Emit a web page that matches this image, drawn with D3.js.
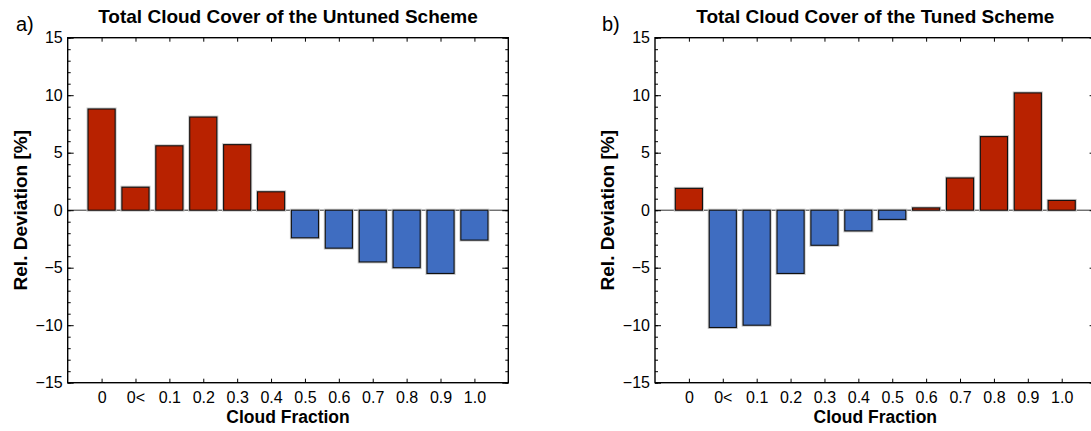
<!DOCTYPE html>
<html>
<head>
<meta charset="utf-8">
<script src="https://cdn.jsdelivr.net/npm/d3@7"></script>
<style>
  html, body { margin: 0; padding: 0; background: #fff; }
  svg { display: block; font-family: "Liberation Sans", Arial, sans-serif; }
</style>
</head>
<body>
<svg id="chart" width="1091" height="431"></svg>
<script>
// Cloud-fraction bins shown on the x axis
const categories = ["0", "0<", "0.1", "0.2", "0.3", "0.4", "0.5", "0.6", "0.7", "0.8", "0.9", "1.0"];

// Relative deviation [%] of total cloud cover per bin
const untunedValues = [8.8, 2.0, 5.6, 8.1, 5.7, 1.6, -2.4, -3.3, -4.5, -5.0, -5.5, -2.6];
const tunedValues   = [1.9, -10.2, -10.0, -5.5, -3.05, -1.8, -0.8, 0.2, 2.8, 6.4, 10.2, 0.85];

// Y axis ticks
const yMajorTicks = [-15, -10, -5, 0, 5, 10, 15];
const yMinorTicks = d3.range(-15, 16, 1);

const panels = [
  { tag: "a)", title: "Total Cloud Cover of the Untuned Scheme", values: untunedValues, left: 67.7, tagX: 16 },
  { tag: "b)", title: "Total Cloud Cover of the Tuned Scheme",   values: tunedValues,   left: 655,  tagX: 602 }
];

const plotW = 440.6, plotTop = 37.7, plotBottom = 382.7;
const RED = "#b82200", BLUE = "#3f6dc1";

const svg = d3.select("#chart");

panels.forEach(p => {
  const x = d3.scaleLinear().domain([-1, categories.length]).range([p.left, p.left + plotW]);
  const y = d3.scaleLinear().domain([-15, 15]).range([plotBottom, plotTop]);
  const g = svg.append("g");
  const barW = (x(1) - x(0)) * 0.8;

  // zero reference line
  g.append("line")
    .attr("x1", x(-1)).attr("x2", x(categories.length))
    .attr("y1", y(0)).attr("y2", y(0))
    .attr("stroke", "#333").attr("stroke-width", 1);

  // bars: soft halo, then filled bar with black outline
  const bars = g.append("g").selectAll("g").data(p.values).join("g");
  bars.append("rect")
    .attr("x", (d, i) => x(i) - barW / 2)
    .attr("y", d => y(Math.max(0, d)))
    .attr("width", barW)
    .attr("height", d => Math.abs(y(d) - y(0)))
    .attr("fill", "none").attr("stroke", "#c8c8c8").attr("stroke-width", 3);
  bars.append("rect")
    .attr("x", (d, i) => x(i) - barW / 2)
    .attr("y", d => y(Math.max(0, d)))
    .attr("width", barW)
    .attr("height", d => Math.abs(y(d) - y(0)))
    .attr("fill", d => d >= 0 ? RED : BLUE)
    .attr("stroke", "#111").attr("stroke-width", 1.1);

  // axes (ticks point inward on all four sides)
  const fmtMinus = d => String(d).replace("-", "\u2212");
  const idx = d3.range(categories.length);

  const xBottom = g.append("g").attr("transform", `translate(0,${plotBottom})`)
    .call(d3.axisBottom(x).tickValues(idx).tickSizeInner(-4).tickSizeOuter(0).tickPadding(8.6)
      .tickFormat(i => categories[i]));
  const xTop = g.append("g").attr("transform", `translate(0,${plotTop})`)
    .call(d3.axisTop(x).tickValues(idx).tickSizeInner(-4).tickSizeOuter(0).tickFormat(""));

  const yLeftMinor = g.append("g").attr("transform", `translate(${x(-1)},0)`)
    .call(d3.axisLeft(y).tickValues(yMinorTicks).tickSizeInner(-3).tickSizeOuter(0).tickFormat(""));
  const yLeft = g.append("g").attr("transform", `translate(${x(-1)},0)`)
    .call(d3.axisLeft(y).tickValues(yMajorTicks).tickSizeInner(-6).tickSizeOuter(0).tickPadding(5)
      .tickFormat(fmtMinus));
  const yRightMinor = g.append("g").attr("transform", `translate(${x(categories.length)},0)`)
    .call(d3.axisRight(y).tickValues(yMinorTicks).tickSizeInner(-3).tickSizeOuter(0).tickFormat(""));
  const yRight = g.append("g").attr("transform", `translate(${x(categories.length)},0)`)
    .call(d3.axisRight(y).tickValues(yMajorTicks).tickSizeInner(-6).tickSizeOuter(0).tickFormat(""));

  [xBottom, xTop, yLeftMinor, yLeft, yRightMinor, yRight].forEach(a => {
    a.attr("font-size", 16).attr("font-family", null);
    a.select(".domain").remove();
    a.selectAll(".tick line").attr("stroke", "#000").attr("stroke-width", 1);
    a.selectAll("text").style("font-size", "16px").attr("fill", "#000");
  });

  // frame
  g.append("rect")
    .attr("x", x(-1)).attr("y", plotTop)
    .attr("width", plotW).attr("height", plotBottom - plotTop)
    .attr("fill", "none").attr("stroke", "#000").attr("stroke-width", 1.4);

  const cx = (x(-1) + x(categories.length)) / 2;

  // title
  g.append("text").attr("x", cx).attr("y", 22.7)
    .attr("text-anchor", "middle").attr("font-weight", "bold").style("font-size", "19px")
    .text(p.title);

  // panel tag
  g.append("text").attr("x", p.tagX).attr("y", 31)
    .style("font-size", "20px").text(p.tag);

  // axis titles
  g.append("text").attr("x", cx).attr("y", 422.7)
    .attr("text-anchor", "middle").attr("font-weight", "bold").style("font-size", "17.5px")
    .text("Cloud Fraction");
  g.append("text")
    .attr("transform", `translate(${p.left - 41},${(plotTop + plotBottom) / 2}) rotate(-90)`)
    .attr("text-anchor", "middle").attr("font-weight", "bold").style("font-size", "19px")
    .text("Rel. Deviation [%]");
});
</script>
</body>
</html>
